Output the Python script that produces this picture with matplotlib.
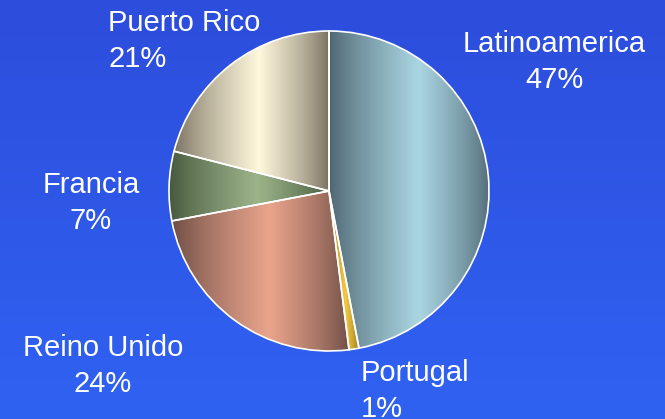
import numpy as np
import matplotlib
matplotlib.use("Agg")
import matplotlib.pyplot as plt
from matplotlib.colors import to_rgb

labels = ["Latinoamerica", "Portugal", "Reino Unido", "Francia", "Puerto Rico"]
values = [47, 1, 24, 7, 21]
light_colors = ["#aad6e2", "#f4c844", "#eaa48c", "#9cb48a", "#fff8dc"]
dark_colors = ["#4c6470", "#9c7c20", "#6c4c44", "#44563c", "#787060"]

W, H = 665, 419
fig = plt.figure(figsize=(W / 100, H / 100), dpi=100)
ax = fig.add_axes([0, 0, 1, 1])

cx, cy, R = 329, H - 191, 160

wedges, _ = ax.pie(values, center=(cx, cy), radius=R, startangle=90,
                   counterclock=False,
                   wedgeprops=dict(edgecolor="white", linewidth=1.2))

# background gradient
top = np.array(to_rgb("#2d4ddc"))
bot = np.array(to_rgb("#3062f2"))
s = np.linspace(0, 1, 200)[:, None]
bg = top + (bot - top) * s
ax.imshow(bg[:, None, :].repeat(2, axis=1), extent=(0, W, 0, H),
          aspect="auto", zorder=0)

# horizontal gradient fill per wedge, dark at the edges
peak = 0.55
for w, lc, dc in zip(wedges, light_colors, dark_colors):
    verts = w.get_patch_transform().transform(w.get_path().vertices)
    x0, x1 = verts[:, 0].min(), verts[:, 0].max()
    y0, y1 = verts[:, 1].min(), verts[:, 1].max()
    t = np.linspace(0, 1, 256)
    f = np.where(t < peak, t / peak, (1 - t) / (1 - peak)) ** 0.8
    lc, dc = np.array(to_rgb(lc)), np.array(to_rgb(dc))
    row = dc + (lc - dc) * f[:, None]
    img = row[None, :, :].repeat(2, axis=0)
    im = ax.imshow(img, extent=(x0, x1, y0, y1), aspect="auto", zorder=1)
    im.set_clip_path(w)
    w.set_facecolor("none")
    w.set_zorder(2)

# labels
label_pos = [(554, 62, "center"), (361, 391, "left"), (103, 366, "center"),
             (91, 203, "center"), (108, 41, "left")]
for lab, v, (x, y, ha) in zip(labels, values, label_pos):
    ax.text(x, H - y, f"{lab}\n{v}%", ha=ha, va="center", color="white",
            fontsize=21, family="Liberation Sans", linespacing=1.35,
            multialignment=ha, zorder=3)

ax.set_xlim(0, W)
ax.set_ylim(0, H)
ax.set_aspect("auto")
ax.axis("off")

fig.savefig("out.png", dpi=100)
